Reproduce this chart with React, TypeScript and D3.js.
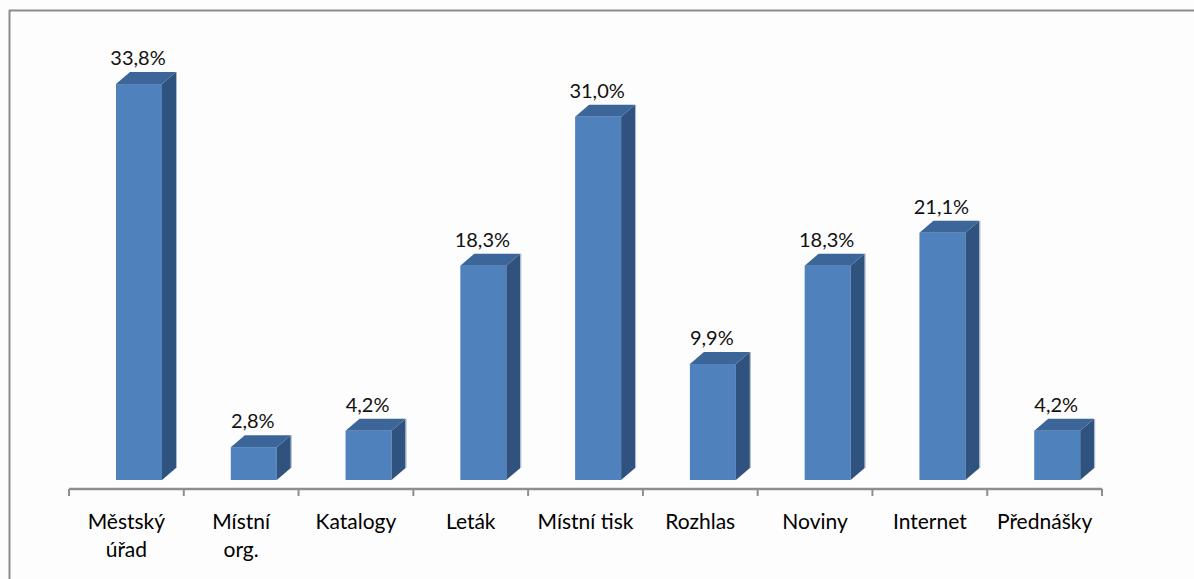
import React from "react";
import * as d3 from "d3";

// data
const categories = ["Městský úřad", "Místní org.", "Katalogy", "Leták", "Místní tisk", "Rozhlas", "Noviny", "Internet", "Přednášky"];
const categoryLines = [["Městský", "úřad"], ["Místní", "org."], ["Katalogy"], ["Leták"], ["Místní tisk"], ["Rozhlas"], ["Noviny"], ["Internet"], ["Přednášky"]];
const values = [33.8, 2.8, 4.2, 18.3, 31.0, 9.9, 18.3, 21.1, 4.2];

const W = 1194;
const H = 579;
const axisY = 489;
const floorY = 480;
const depthX = 14;
const depthY = 12;
const barW = 46;
const font = "Lato, 'Open Sans', sans-serif";

const fmt = (v: number) => v.toFixed(1).replace(".", ",") + "%";

export default function App() {
  const x = d3.scaleBand().domain(categories).range([69, 1102]).padding(0);
  const y = d3.scaleLinear().domain([0, 35]).range([floorY, 70]);
  const bw = x.bandwidth();

  const bars = categories.map((c, i) => {
    const x0 = (x(c) as number) + 47;
    const x1 = x0 + barW;
    const yt = y(values[i]);
    const top = [[x0, yt], [x1, yt], [x1 + depthX, yt - depthY], [x0 + depthX, yt - depthY]];
    const side = [[x1, yt], [x1 + depthX, yt - depthY], [x1 + depthX, floorY - depthY], [x1, floorY]];
    const pts = (p: number[][]) => p.map((d) => d.join(",")).join(" ");
    return (
      <g key={c}>
        <rect x={x0} y={yt} width={barW} height={floorY - yt} fill="#4F81BD" />
        <polygon points={pts(side)} fill="#30527E" />
        <polygon points={pts(top)} fill="#3C6699" />
        <line x1={x1 + depthX + 0.5} x2={x1 + depthX + 0.5} y1={yt - depthY} y2={floorY - depthY} stroke="#A9B8CC" strokeWidth={1} />
        <text x={x0 + barW / 2 - 1} y={yt - depthY - 7} textAnchor="middle" fontFamily={font} fontSize={20} fill="#111">
          {fmt(values[i])}
        </text>
      </g>
    );
  });

  const ticks = d3.range(categories.length + 1).map((i) => 69 + i * bw);

  return (
    <svg width={W} height={H} style={{ position: "absolute", left: 0, top: 0, background: "#FDFDFD" }}>
      <rect x={0} y={0} width={W} height={H} fill="#FDFDFD" />
      {/* frame */}
      <line x1={9.5} x2={9.5} y1={10} y2={H} stroke="#8C8C8C" strokeWidth={2} />
      <line x1={9} x2={W} y1={10.5} y2={10.5} stroke="#8C8C8C" strokeWidth={2} />

      {bars}

      {/* category axis */}
      <line x1={69} x2={1102} y1={axisY} y2={axisY} stroke="#8E8E8E" strokeWidth={2.5} />
      {ticks.map((t, i) => (
        <line key={i} x1={t} x2={t} y1={axisY} y2={axisY + 7} stroke="#8E8E8E" strokeWidth={2} />
      ))}
      {categories.map((c, i) => (
        <text key={c} textAnchor="middle" fontFamily={font} fontSize={21} fill="#000">
          {categoryLines[i].map((l, j) => (
            <tspan key={j} x={(x(c) as number) + bw / 2} y={529 + j * 28}>
              {l}
            </tspan>
          ))}
        </text>
      ))}
    </svg>
  );
}
